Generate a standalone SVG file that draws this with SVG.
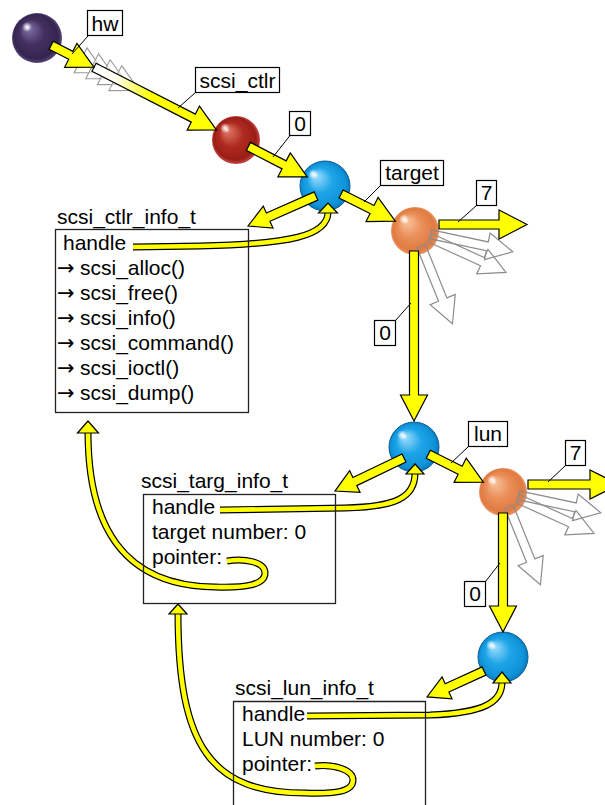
<svg xmlns="http://www.w3.org/2000/svg" width="605" height="805" viewBox="0 0 605 805">
<defs>
<radialGradient id="gPurple" cx="0.5" cy="0.5" r="0.5" fx="0.3" fy="0.28"><stop offset="0" stop-color="#d8d0ea"/><stop offset="0.1" stop-color="#7a68a0"/><stop offset="0.5" stop-color="#43305f"/><stop offset="0.88" stop-color="#35244f"/><stop offset="1" stop-color="#56467a"/></radialGradient>
<radialGradient id="gRed" cx="0.5" cy="0.5" r="0.5" fx="0.3" fy="0.28"><stop offset="0" stop-color="#ffe0d8"/><stop offset="0.1" stop-color="#d87060"/><stop offset="0.5" stop-color="#b02a20"/><stop offset="0.88" stop-color="#9a1e16"/><stop offset="1" stop-color="#c44848"/></radialGradient>
<radialGradient id="gBlue" cx="0.5" cy="0.5" r="0.5" fx="0.3" fy="0.28"><stop offset="0" stop-color="#eef9ff"/><stop offset="0.1" stop-color="#8fd6fa"/><stop offset="0.5" stop-color="#1ea5e8"/><stop offset="0.88" stop-color="#0e92d8"/><stop offset="1" stop-color="#0b78bb"/></radialGradient>
<radialGradient id="gOrange" cx="0.5" cy="0.5" r="0.5" fx="0.3" fy="0.28"><stop offset="0" stop-color="#fff4e8"/><stop offset="0.1" stop-color="#f6bc94"/><stop offset="0.5" stop-color="#ea8e58"/><stop offset="0.88" stop-color="#e07a40"/><stop offset="1" stop-color="#ea9464"/></radialGradient>
<radialGradient id="spec"><stop offset="0" stop-color="#fff" stop-opacity="0.95"/><stop offset="0.5" stop-color="#fff" stop-opacity="0.5"/><stop offset="1" stop-color="#fff" stop-opacity="0"/></radialGradient>
<linearGradient id="fade" x1="0" y1="0" x2="1" y2="0"><stop offset="0" stop-color="#ffffff"/><stop offset="0.18" stop-color="#fffff2"/><stop offset="0.47" stop-color="#ffff00"/><stop offset="1" stop-color="#ffff00"/></linearGradient>
</defs>
<style>
.arr{fill:#ffff00;stroke:#000;stroke-width:1.2}
.ghost{fill:none;stroke:#8c8c8c;stroke-width:1.2}
.gh{fill:#ffffff;fill-opacity:0.6;stroke:#9a9a9a;stroke-width:1.1}
.cb{fill:none;stroke:#000;stroke-width:7}
.cy{fill:none;stroke:#ffff00;stroke-width:4.6}
.box{fill:none;stroke:#222;stroke-width:1.3}
.lbl{fill:#fff;stroke:#000;stroke-width:1.2}
.lead{fill:none;stroke:#000;stroke-width:1}
text{font-family:"Liberation Sans",Arial,sans-serif;font-size:21px;fill:#000}
.c{text-anchor:middle}
.ar{font-family:"DejaVu Sans",sans-serif;font-size:21px}
</style>

<g id="sphere-hw"><circle cx="37" cy="38" r="25" fill="url(#gPurple)"/><circle cx="27" cy="27" r="5" fill="url(#spec)"/></g>
<g id="sphere-ctlr"><circle cx="236" cy="140" r="24" fill="url(#gRed)"/><circle cx="225" cy="128" r="5" fill="url(#spec)"/></g>
<g id="sphere-bus"><circle cx="325" cy="186" r="25" fill="url(#gBlue)" stroke="#0b5f99" stroke-width="1"/><circle cx="313" cy="174" r="5" fill="url(#spec)"/></g>
<g id="sphere-target"><circle cx="415" cy="231" r="24" fill="url(#gOrange)"/><circle cx="404" cy="219" r="5" fill="url(#spec)"/></g>
<g id="sphere-target-dev"><circle cx="414" cy="447" r="25" fill="url(#gBlue)" stroke="#0b5f99" stroke-width="1"/><circle cx="402" cy="435" r="5" fill="url(#spec)"/></g>
<g id="sphere-lun"><circle cx="503" cy="492" r="24" fill="url(#gOrange)"/><circle cx="492" cy="480" r="5" fill="url(#spec)"/></g>
<g id="sphere-lun-dev"><circle cx="503" cy="657" r="25" fill="url(#gBlue)" stroke="#0b5f99" stroke-width="1"/><circle cx="491" cy="645" r="5" fill="url(#spec)"/></g>

<g id="connectors">
<g transform="translate(37,38) rotate(27.14)">
<polygon class="gh" points="49,-14 76,0 49,14"/>
<polygon class="gh" points="62,-14 89,0 62,14"/>
<polygon class="gh" points="75,-14 102,0 75,14"/>
<polygon class="gh" points="88,-14 115,0 88,14"/>
</g>
<path transform="translate(94,67.2) rotate(27.14)" d="M0,-4.5 H111.6 V-13.5 L137.6,0 L111.6,13.5 V4.5 H0 Z" fill="url(#fade)" stroke="#000" stroke-width="1.2"/>
<path class="arr" transform="translate(51.2,45.3) rotate(27.14)" d="M0,-4.5 H22 V-13.5 L48,0 L22,13.5 V4.5 H0 Z"/>
<path class="arr" transform="translate(248.4,146.4) rotate(27.33)" d="M0,-4.5 H40.2 V-13.5 L66.2,0 L40.2,13.5 V4.5 H0 Z"/>
<path class="arr" transform="translate(341.1,194) rotate(26.57)" d="M0,-4.5 H34.6 V-13.5 L60.6,0 L34.6,13.5 V4.5 H0 Z"/>
<path class="ghost" transform="translate(430.6,234.3) rotate(12)" d="M0,-4.5 H58 V-13.5 L84,0 L58,13.5 V4.5 H0 Z"/>
<path class="ghost" transform="translate(429.6,237.6) rotate(24.5)" d="M0,-4.5 H58 V-13.5 L84,0 L58,13.5 V4.5 H0 Z"/>
<path class="ghost" transform="translate(421,245.8) rotate(68)" d="M0,-4.5 H58 V-13.5 L84,0 L58,13.5 V4.5 H0 Z"/>
<path class="arr" transform="translate(439,224.5)" d="M0,-4.5 H60 V-14.5 L88,0 L60,14.5 V4.5 H0 Z"/>
<path class="arr" transform="translate(414,251) rotate(90)" d="M0,-4.5 H144 V-13.5 L170,0 L144,13.5 V4.5 H0 Z"/>
<path class="arr" transform="translate(428.3,454.2) rotate(26.82)" d="M0,-4.5 H35.7 V-13.5 L61.7,0 L35.7,13.5 V4.5 H0 Z"/>
<path class="ghost" transform="translate(518.6,495.3) rotate(12)" d="M0,-4.5 H58 V-13.5 L84,0 L58,13.5 V4.5 H0 Z"/>
<path class="ghost" transform="translate(517.6,498.6) rotate(24.5)" d="M0,-4.5 H58 V-13.5 L84,0 L58,13.5 V4.5 H0 Z"/>
<path class="ghost" transform="translate(509,506.8) rotate(68)" d="M0,-4.5 H58 V-13.5 L84,0 L58,13.5 V4.5 H0 Z"/>
<path class="arr" transform="translate(528,484.5)" d="M0,-4.5 H62 V-14.5 L91,0 L62,14.5 V4.5 H0 Z"/>
<path class="arr" transform="translate(503,513) rotate(90)" d="M0,-4.5 H93 V-13.5 L119,0 L93,13.5 V4.5 H0 Z"/>
<path class="arr" transform="translate(316,196) rotate(156.2)" d="M0,-4.5 H52.3 V-12 L74.3,0 L52.3,12 V4.5 H0 Z"/>
<path class="arr" transform="translate(404,458) rotate(154.4)" d="M0,-4.5 H54.5 V-12 L76.5,0 L54.5,12 V4.5 H0 Z"/>
<path class="arr" transform="translate(484,671) rotate(155.5)" d="M0,-4.5 H40.6 V-12 L62.6,0 L40.6,12 V4.5 H0 Z"/>
<path class="cb" d="M133,247 L200,246 C290,244 328,236 328,212"/>
<path class="cy" d="M133,247 L200,246 C290,244 328,236 328,212"/>
<polygon class="arr" points="318.5,213 337.5,213 328,203"/>
<path class="cb" d="M220,510 L345,508 C395,507 415,498 415,473"/>
<path class="cy" d="M220,510 L345,508 C395,507 415,498 415,473"/>
<polygon class="arr" points="406,474 424,474 415,464"/>
<path class="cb" d="M307,716 L430,715 C485,713 502,702 502,682"/>
<path class="cy" d="M307,716 L430,715 C485,713 502,702 502,682"/>
<polygon class="arr" points="493,683 511,683 502,672"/>
<path class="cb" d="M227,561 C245,558 265,562 265,573 C265,585 245,588 215,587 C122,586 88,525 88,432"/>
<path class="cy" d="M227,561 C245,558 265,562 265,573 C265,585 245,588 215,587 C122,586 88,525 88,432"/>
<polygon class="arr" points="77.5,433 98.5,433 88,421"/>
<path class="cb" d="M315,766 C335,764 353,770 353,780 C353,792 335,794 305,793 C212,793 178,748 178,613"/>
<path class="cy" d="M315,766 C335,764 353,770 353,780 C353,792 335,794 305,793 C212,793 178,748 178,613"/>
<polygon class="arr" points="169,614 187,614 178,604"/>
</g>

<g id="scsi_ctlr_info_t">
<rect class="box" x="55.5" y="229.5" width="193" height="183"/>
<text x="57" y="224">scsi_ctlr_info_t</text>
<text x="63" y="250">handle</text>
<text x="57" y="275"><tspan class="ar">→</tspan><tspan x="80">scsi_alloc()</tspan></text>
<text x="57" y="300"><tspan class="ar">→</tspan><tspan x="80">scsi_free()</tspan></text>
<text x="57" y="325"><tspan class="ar">→</tspan><tspan x="80">scsi_info()</tspan></text>
<text x="57" y="350"><tspan class="ar">→</tspan><tspan x="80">scsi_command()</tspan></text>
<text x="57" y="375"><tspan class="ar">→</tspan><tspan x="80">scsi_ioctl()</tspan></text>
<text x="57" y="400"><tspan class="ar">→</tspan><tspan x="80">scsi_dump()</tspan></text>
</g>
<g id="scsi_targ_info_t">
<rect class="box" x="143.5" y="494.5" width="192" height="109"/>
<text x="141" y="488">scsi_targ_info_t</text>
<text x="152" y="514">handle</text>
<text x="152" y="539">target number: 0</text>
<text x="152" y="564">pointer:</text>
</g>
<g id="scsi_lun_info_t">
<path class="box" d="M233.5,806 V701.5 H425.5 V806"/>
<text x="235" y="695">scsi_lun_info_t</text>
<text x="242" y="721">handle</text>
<text x="242" y="746">LUN number: 0</text>
<text x="242" y="771">pointer:</text>
</g>

<g id="label-hw"><path class="lead" d="M88,36 L72,54"/><rect class="lbl" x="87.5" y="10.5" width="35" height="25"/><text class="c" x="105" y="31">hw</text></g>
<g id="label-scsi_ctlr"><path class="lead" d="M195.5,92.5 L178,108"/><rect class="lbl" x="195.5" y="67.5" width="84" height="25"/><text class="c" x="237.5" y="88">scsi_ctlr</text></g>
<g id="label-0a"><path class="lead" d="M290,135.5 L273,157"/><rect class="lbl" x="289.5" y="111.5" width="21" height="24"/><text class="c" x="300" y="131">0</text></g>
<g id="label-target"><path class="lead" d="M380.5,185.5 L364,202"/><rect class="lbl" x="380.5" y="160.5" width="63" height="25"/><text class="c" x="412" y="180">target</text></g>
<g id="label-7a"><path class="lead" d="M476.5,205.5 L458,222"/><rect class="lbl" x="476.5" y="180.5" width="20" height="25"/><text class="c" x="486.5" y="200">7</text></g>
<g id="label-0b"><path class="lead" d="M395.5,320.5 L411,303"/><rect class="lbl" x="374.5" y="320.5" width="21" height="25"/><text class="c" x="385" y="340">0</text></g>
<g id="label-lun"><path class="lead" d="M468.5,446.5 L451,463"/><rect class="lbl" x="468.5" y="421.5" width="39" height="25"/><text class="c" x="488" y="441">lun</text></g>
<g id="label-7b"><path class="lead" d="M565.5,465.5 L548,482"/><rect class="lbl" x="565.5" y="440.5" width="20" height="25"/><text class="c" x="575.5" y="460">7</text></g>
<g id="label-0c"><path class="lead" d="M485.5,581.5 L500,563"/><rect class="lbl" x="464.5" y="581.5" width="21" height="25"/><text class="c" x="475" y="601">0</text></g>
</svg>
